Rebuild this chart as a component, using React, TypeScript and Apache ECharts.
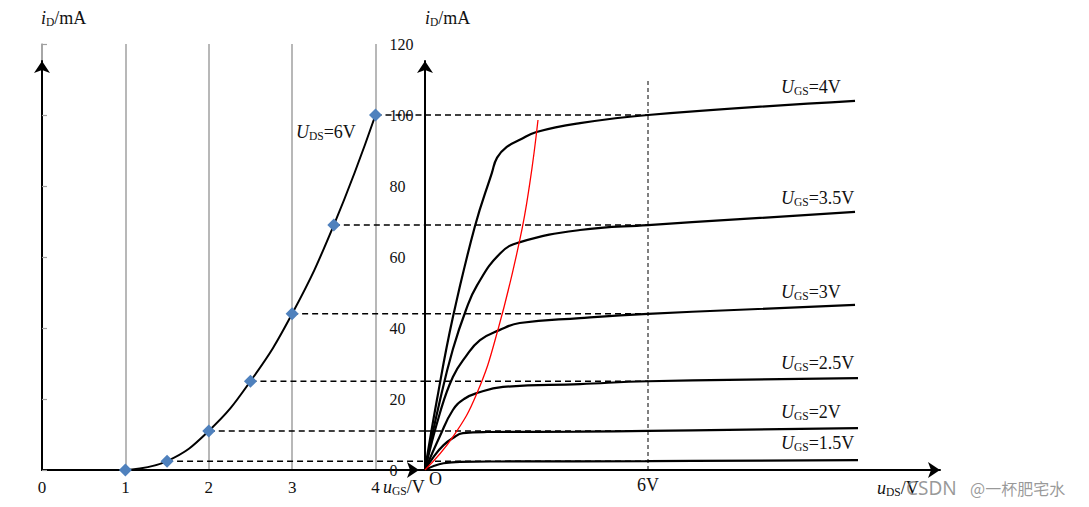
import React, { useEffect, useRef } from "react";
import * as echarts from "echarts";

// ---------- data ----------
// transfer characteristic (U_DS = 6 V)
const transferUgs = [1, 1.5, 2, 2.5, 3, 3.5, 4];
const transferId = [0, 2.5, 11, 25, 44, 69, 100];

// output characteristics: u_DS (V) and i_D (mA) for each U_GS
const ugsLabels = ["4V", "3.5V", "3V", "2.5V", "2V", "1.5V"];
const out4U = [0, 0.32, 0.75, 1.34, 1.8, 1.94, 2.2, 2.55, 3.0, 4.17, 6, 11.57];
const out4I = [0, 19.7, 43, 68.5, 83.7, 88, 91, 93, 95.2, 97.7, 100, 104];
const out35U = [0, 0.4, 0.75, 1.1, 1.4, 2.02, 2.56, 4.17, 6, 11.57];
const out35I = [0, 19.5, 34, 45, 52, 61, 64.2, 67.6, 69, 72.7];
const out3U = [0, 0.4, 0.75, 1.1, 1.48, 2.0, 2.55, 4.17, 6, 11.57];
const out3I = [0, 16, 26.2, 32, 36.6, 39.4, 41.4, 42.8, 44, 46.5];
const out25U = [0, 0.4, 0.75, 1.05, 1.4, 2.1, 4.17, 6, 11.65];
const out25I = [0, 9.5, 16.9, 20, 21.7, 23.4, 24.2, 25, 25.9];
const out2U = [0, 0.25, 0.5, 0.75, 1.02, 1.67, 4.17, 6, 11.65];
const out2I = [0, 4, 7, 9, 10.4, 10.7, 10.8, 11, 11.8];
const out15U = [0, 0.25, 0.5, 0.94, 2, 6, 11.65];
const out15I = [0, 1.2, 1.9, 2.3, 2.4, 2.5, 2.8];
// boundary (pre-pinch-off) curve, red
const redU = [0, 0.75, 1.4, 1.96, 2.55, 2.82, 3.04];
const redI = [0, 9.3, 21.7, 39.4, 64.8, 80.8, 98.6];

const udsMark = 6; // V, vertical dashed line
const udsMarkTop = 110; // mA, top of the dashed line
const grayTicksMax = 120;
const grayTicksStep = 20;
const ugsMaxAxis = 4;

// ---------- layout ----------
const SERIF = "'Liberation Serif', 'Times New Roman', serif";
const INK = "#111";
const GRAY = "#a0a0a0";
const Y0 = 470; // pixel of 0 mA
const Y120 = 44; // pixel of 120 mA
const PX_PER_MA = (Y0 - Y120) / grayTicksMax;
const AX_TOP = 61; // top of black axes (arrow centre)
const yMaxBlack = (Y0 - AX_TOP) / PX_PER_MA;
const X_GS0 = 42;
const PX_PER_UGS = (375.5 - X_GS0) / 4;
const X_DS0 = 425;
const PX_PER_UDS = (648 - X_DS0) / 6;
const R_WIDTH = 515;

const zip = (a: number[], b: number[]) => a.map((v, i) => [v, b[i]]);

const FS = 18;
const rich = {
  it: { fontFamily: SERIF, fontSize: FS, fontStyle: "italic", fill: INK, lineHeight: 19 },
  sub: { fontFamily: SERIF, fontSize: 11.5, fill: INK, lineHeight: 6, verticalAlign: "bottom" },
  n: { fontFamily: SERIF, fontSize: FS, fill: INK, lineHeight: 19 },
};

function mathText(x: number, y: number, main: string, sub: string, rest: string) {
  return {
    type: "text",
    x,
    y,
    silent: true,
    style: {
      text: `{it|${main}}{sub|${sub}}{n|${rest}}`,
      rich,
      align: "left",
      verticalAlign: "middle",
    },
  };
}

export default function App() {
  const ref = useRef<HTMLDivElement>(null);
  useEffect(() => {
    document.body.style.margin = "0";
    const chart = echarts.init(ref.current!, null, { renderer: "svg" });

    const outCurves = [
      zip(out4U, out4I),
      zip(out35U, out35I),
      zip(out3U, out3I),
      zip(out25U, out25I),
      zip(out2U, out2I),
      zip(out15U, out15I),
    ];

    const dashStyle = { color: "#000", width: 1.5, type: [6, 4] };

    const series: any[] = [];
    // transfer curve
    series.push({
      type: "line",
      xAxisIndex: 1,
      yAxisIndex: 1,
      data: zip(transferUgs, transferId),
      smooth: 0.45,
      symbol: "diamond",
      symbolSize: 13,
      itemStyle: { color: "#4F81BD" },
      lineStyle: { color: "#000", width: 2 },
      z: 5,
    });
    // dashed links: left part (transfer) and right part (output)
    transferUgs.forEach((u, k) => {
      const id = transferId[k];
      if (id <= 0) return;
      series.push({
        type: "line",
        xAxisIndex: 1,
        yAxisIndex: 1,
        data: [
          [u, id],
          [(X_DS0 - X_GS0) / PX_PER_UGS, id],
        ],
        symbol: "none",
        lineStyle: dashStyle,
        z: 3,
      });
      series.push({
        type: "line",
        xAxisIndex: 2,
        yAxisIndex: 2,
        data: [
          [0, id],
          [udsMark, id],
        ],
        symbol: "none",
        lineStyle: dashStyle,
        z: 3,
      });
    });
    // 6 V vertical dashed line
    series.push({
      type: "line",
      xAxisIndex: 2,
      yAxisIndex: 2,
      data: [
        [udsMark, 0],
        [udsMark, udsMarkTop],
      ],
      symbol: "none",
      lineStyle: { color: "#000", width: 1, type: [4, 3] },
      z: 3,
    });
    // output curves
    outCurves.forEach((d) => {
      series.push({
        type: "line",
        xAxisIndex: 2,
        yAxisIndex: 2,
        data: d,
        smooth: 0.45,
        symbol: "none",
        lineStyle: { color: "#000", width: 2.2 },
        z: 4,
      });
    });
    // red boundary curve
    series.push({
      type: "line",
      xAxisIndex: 2,
      yAxisIndex: 2,
      data: zip(redU, redI),
      smooth: 0.45,
      symbol: "none",
      lineStyle: { color: "#ff0000", width: 1.3 },
      z: 6,
    });

    const blackLine = (offset: number) => ({
      show: true,
      lineStyle: { color: "#000", width: 2 },
      symbol: ["none", "arrow"],
      symbolSize: [12, 12],
      symbolOffset: [0, offset],
    });

    const option: any = {
      animation: false,
      backgroundColor: "#fff",
      grid: [
        // gray reference grid (u_GS 0..4, i_D 0..120)
        { left: X_GS0, top: Y120, width: ugsMaxAxis * PX_PER_UGS, height: Y0 - Y120 },
        // left panel black axes and data
        { left: X_GS0, top: AX_TOP, width: X_DS0 - X_GS0, height: Y0 - AX_TOP },
        // right panel
        { left: X_DS0, top: AX_TOP, width: R_WIDTH, height: Y0 - AX_TOP },
      ],
      xAxis: [
        {
          gridIndex: 0,
          type: "value",
          min: 0,
          max: ugsMaxAxis,
          interval: 1,
          axisLine: { show: false },
          axisTick: { show: false },
          axisLabel: { show: false },
          splitLine: { show: true, lineStyle: { color: GRAY, width: 1.5 } },
        },
        {
          gridIndex: 1,
          type: "value",
          min: 0,
          max: (X_DS0 - X_GS0) / PX_PER_UGS,
          interval: 1,
          axisLine: blackLine(-6),
          axisTick: { show: false },
          splitLine: { show: false },
          axisLabel: {
            margin: 9,
            fontFamily: SERIF,
            fontSize: 17,
            color: INK,
            showMaxLabel: false,
            formatter: (v: number) =>
              Math.abs(v - Math.round(v)) < 1e-6 && v <= ugsMaxAxis + 1e-6
                ? String(Math.round(v))
                : "",
          },
        },
        {
          gridIndex: 2,
          type: "value",
          min: 0,
          max: R_WIDTH / PX_PER_UDS,
          interval: udsMark,
          axisLine: blackLine(0),
          axisTick: { show: false },
          splitLine: { show: false },
          axisLabel: {
            margin: 6,
            fontFamily: SERIF,
            fontSize: 18,
            color: INK,
            showMaxLabel: false,
            formatter: (v: number) => (Math.abs(v - udsMark) < 1e-6 ? "6V" : ""),
          },
        },
      ],
      yAxis: [
        {
          gridIndex: 0,
          type: "value",
          position: "right",
          min: 0,
          max: grayTicksMax,
          interval: grayTicksStep,
          axisLine: { show: true, lineStyle: { color: GRAY, width: 1.5 } },
          axisTick: { show: true, length: 5, lineStyle: { color: GRAY, width: 1.2 } },
          splitLine: { show: false },
          axisLabel: {
            margin: 14,
            fontFamily: SERIF,
            fontSize: 16,
            color: INK,
          },
        },
        {
          gridIndex: 1,
          type: "value",
          min: 0,
          max: yMaxBlack,
          axisLine: blackLine(0),
          axisTick: { show: false },
          axisLabel: { show: false },
          splitLine: { show: false },
        },
        {
          gridIndex: 2,
          type: "value",
          min: 0,
          max: yMaxBlack,
          axisLine: blackLine(0),
          axisTick: { show: false },
          axisLabel: { show: false },
          splitLine: { show: false },
        },
      ],
      series,
      graphic: [
        mathText(41, 18, "i", "D", "/mA"),
        mathText(425, 18, "i", "D", "/mA"),
        mathText(296, 132, "U", "DS", "=6V"),
        mathText(781, 87, "U", "GS", "=" + ugsLabels[0]),
        mathText(781, 198, "U", "GS", "=" + ugsLabels[1]),
        mathText(781, 292, "U", "GS", "=" + ugsLabels[2]),
        mathText(781, 363, "U", "GS", "=" + ugsLabels[3]),
        mathText(781, 412, "U", "GS", "=" + ugsLabels[4]),
        mathText(781, 443, "U", "GS", "=" + ugsLabels[5]),
        mathText(383, 487, "u", "GS", "/V"),
        mathText(877, 488, "u", "DS", "/V"),
        {
          type: "text",
          x: 429,
          y: 479,
          silent: true,
          style: { text: "O", fontFamily: SERIF, fontSize: 18, fill: INK, verticalAlign: "middle" },
        },
        {
          type: "text",
          x: 906,
          y: 488,
          silent: true,
          style: {
            text: "CSDN",
            fontFamily: "'Noto Sans', sans-serif",
            fontSize: 19,
            fill: "rgba(120,120,120,0.75)",
            verticalAlign: "middle",
          },
        },
        {
          type: "text",
          x: 970,
          y: 488,
          silent: true,
          style: {
            text: "@一杯肥宅水",
            fontFamily: "'Noto Sans CJK SC', sans-serif",
            fontSize: 16,
            fill: "rgba(120,120,120,0.75)",
            verticalAlign: "middle",
          },
        },
      ],
    };

    chart.setOption(option);
    return () => chart.dispose();
  }, []);
  return <div ref={ref} style={{ width: 1089, height: 507, background: "#fff" }} />;
}
